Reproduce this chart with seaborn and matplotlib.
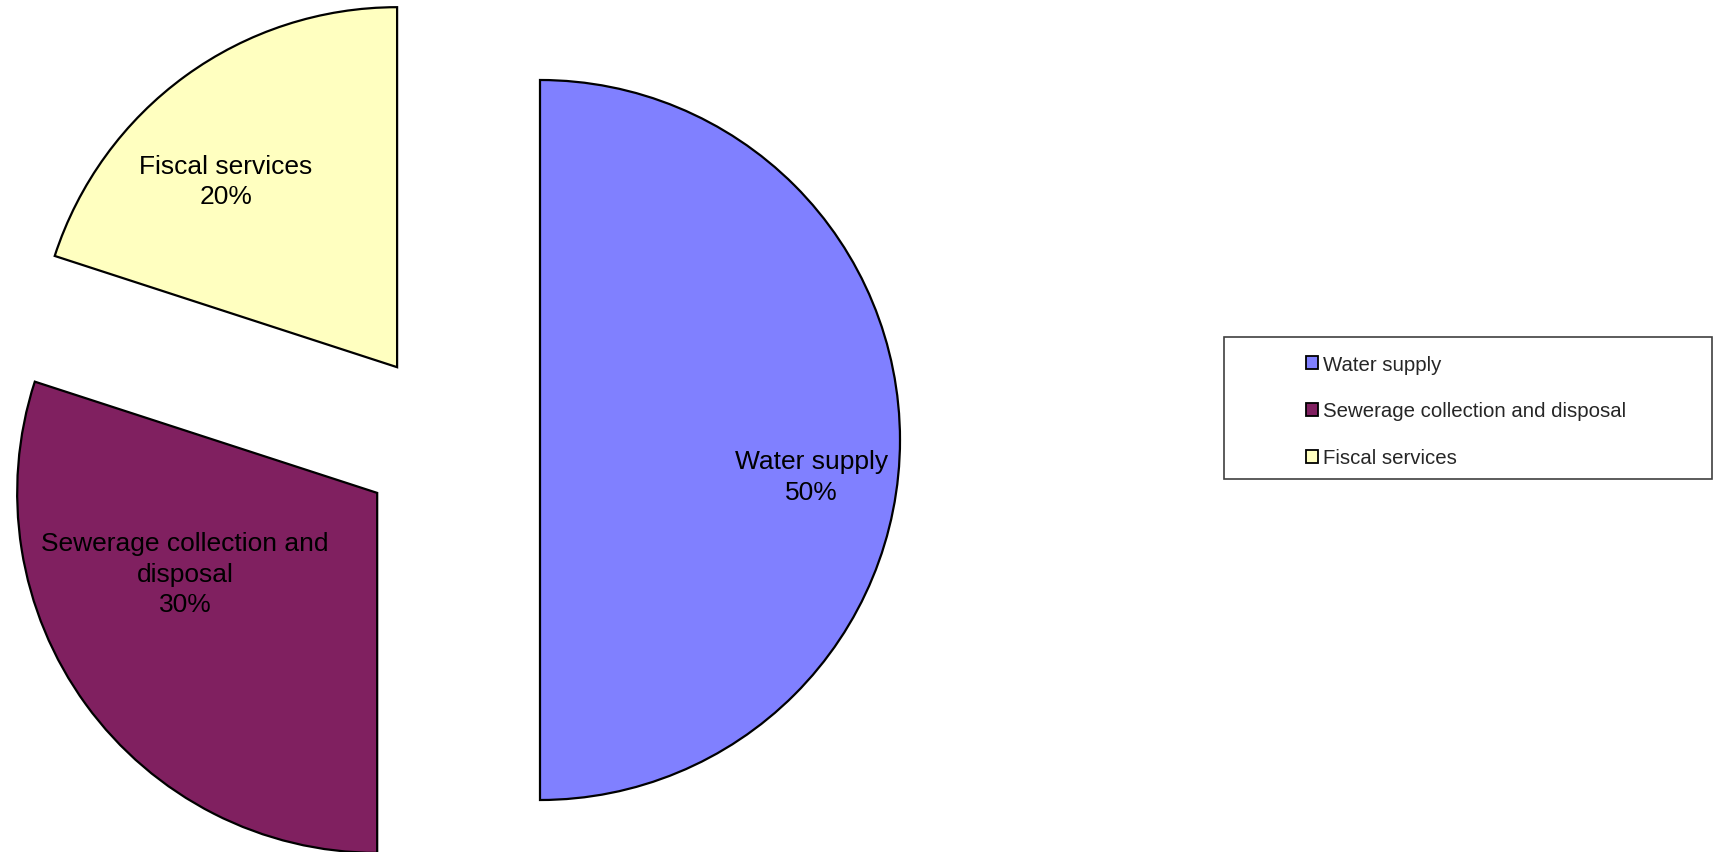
import matplotlib
matplotlib.use("Agg")
import matplotlib.pyplot as plt
from matplotlib.patches import Patch, Rectangle
import seaborn as sns

categories = ["Water supply", "Sewerage collection and disposal", "Fiscal services"]
shares = [50, 30, 20]
slice_labels = ["Water supply\n50%", "Sewerage collection and\ndisposal\n30%", "Fiscal services\n20%"]
colors = ["#8080FF", "#802060", "#FFFFC0"]

sns.set_style("white")
plt.rcParams["font.family"] = ["Liberation Sans", "DejaVu Sans"]

W, H = 1718, 853
fig = plt.figure(figsize=(W / 100, H / 100), dpi=100)
ax = fig.add_axes([0, 0, 1, 1])

R = 360.0
cx, cy = 450.0, 441.0
wedges, _ = ax.pie(shares, colors=colors, startangle=90, counterclock=False,
                   explode=[0.25, 0.25, 0.25], radius=1,
                   wedgeprops=dict(edgecolor="black", linewidth=1.6))
ax.set_aspect("auto")
ax.set_xlim(-cx / R, (W - cx) / R)
ax.set_ylim(-(H - cy) / R, cy / R)
ax.axis("off")

label_pos = [(1.003, -0.102), (-0.736, -0.372), (-0.622, 0.719)]
for (x, y), t in zip(label_pos, slice_labels):
    ax.text(x, y, t, ha="center", va="center", fontsize=19, color="black",
            linespacing=1.34)

handles = [Patch(facecolor=c, edgecolor="black", linewidth=1.3) for c in colors]
fig.legend(handles, categories, loc="center left",
           bbox_to_anchor=(1306 / W, 1 - 412 / H), frameon=False,
           fontsize=14.7, handlelength=0.6, handleheight=0.6,
           handletextpad=0.22, labelspacing=1.36, borderpad=0, borderaxespad=0)

fig.add_artist(Rectangle((1224 / W, 1 - 480 / H), (1712 - 1224) / W, (480 - 338) / H,
                         transform=fig.transFigure, fill=False,
                         edgecolor="#404040", linewidth=1.2))

fig.savefig("out.png", dpi=100, facecolor="white")
